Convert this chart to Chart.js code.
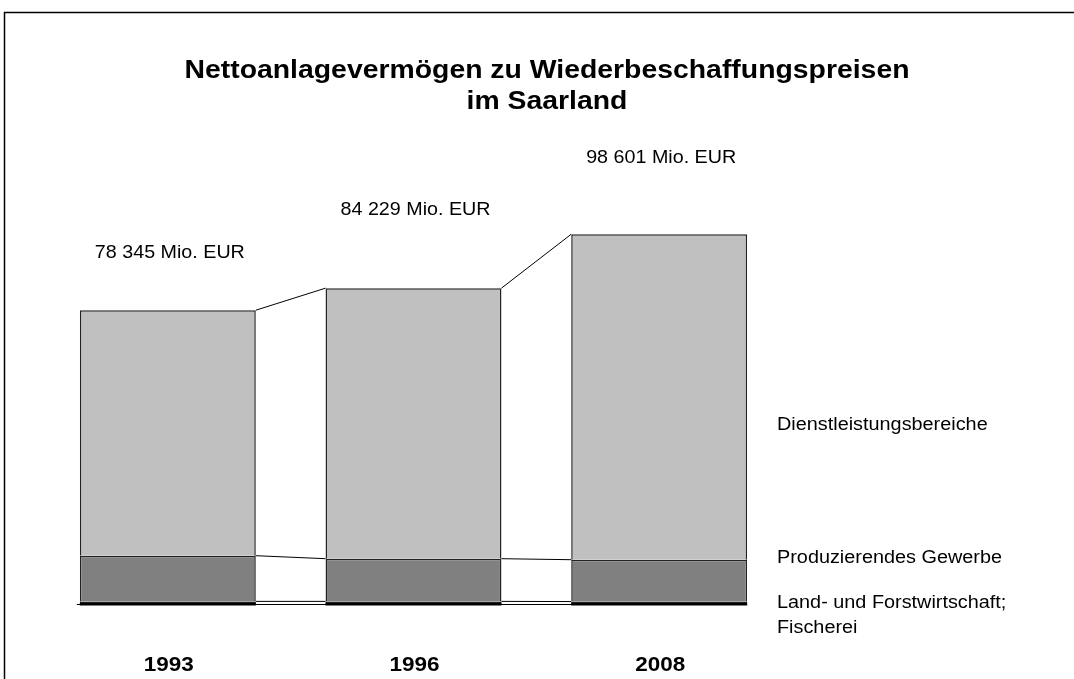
<!DOCTYPE html>
<html>
<head>
<meta charset="utf-8">
<script src="https://cdn.jsdelivr.net/npm/chart.js@4/dist/chart.umd.min.js"></script>
<style>
html,body{margin:0;padding:0;background:#fff;}
#wrap{width:1074px;height:679px;position:relative;}
</style>
</head>
<body>
<div id="wrap"><canvas id="c" width="1074" height="679"></canvas></div>
<script>
const categories = ['1993', '1996', '2008'];
const totalLabels = ['78 345 Mio. EUR', '84 229 Mio. EUR', '98 601 Mio. EUR'];
const landForst = [700, 700, 650];
const produzierend = [12180, 11380, 11160];
const dienstleistung = [65465, 72149, 86791];
const seriesNames = ['Land- und Forstwirtschaft;\nFischerei', 'Produzierendes Gewerbe', 'Dienstleistungsbereiche'];
const titleLines = ['Nettoanlagevermögen zu Wiederbeschaffungspreisen', 'im Saarland'];

const FONT = '"Liberation Sans", Arial, sans-serif';

function drawText(ctx, text, x, y, font, sx, align) {
  ctx.save();
  ctx.font = font;
  ctx.textAlign = align;
  ctx.translate(x, y);
  ctx.scale(sx, 1);
  ctx.fillText(text, 0, 0);
  ctx.restore();
}
function fitScale(ctx, text, font, target) {
  ctx.save();
  ctx.font = font;
  const w = ctx.measureText(text).width;
  ctx.restore();
  return target / w;
}

const customDraw = {
  id: 'customDraw',
  beforeDraw(chart) {
    const ctx = chart.ctx;
    ctx.save();
    ctx.fillStyle = '#fff';
    ctx.fillRect(0, 0, chart.width, chart.height);
    ctx.strokeStyle = '#000';
    ctx.lineWidth = 1.5;
    ctx.strokeRect(4.5, 12.5, 1200, 800);
    ctx.restore();
  },
  afterDatasetsDraw(chart) {
    const ctx = chart.ctx;
    const metas = [0, 1, 2].map(i => chart.getDatasetMeta(i));
    ctx.save();
    // series lines
    ctx.strokeStyle = '#000';
    ctx.lineWidth = 1;
    metas.forEach(meta => {
      for (let i = 0; i < meta.data.length - 1; i++) {
        const a = meta.data[i], b = meta.data[i + 1];
        ctx.beginPath();
        ctx.moveTo(a.x + a.width / 2, a.y);
        ctx.lineTo(b.x - b.width / 2, b.y);
        ctx.stroke();
      }
    });
    // baseline
    const first = metas[0].data[0], last = metas[0].data[metas[0].data.length - 1];
    const y0 = chart.scales.y.getPixelForValue(0);
    ctx.lineWidth = 1;
    ctx.beginPath();
    ctx.moveTo(first.x - first.width / 2 - 3, y0 + 0.5);
    ctx.lineTo(last.x + last.width / 2, y0 + 0.5);
    ctx.stroke();
    ctx.lineWidth = 3;
    metas[0].data.forEach(el => {
      ctx.beginPath();
      ctx.moveTo(el.x - el.width / 2, y0);
      ctx.lineTo(el.x + el.width / 2, y0);
      ctx.stroke();
    });

    ctx.fillStyle = '#000';
    ctx.textBaseline = 'alphabetic';
    // title
    const tFont = 'bold 25px ' + FONT;
    const tScale = fitScale(ctx, titleLines[0], tFont, 725);
    drawText(ctx, titleLines[0], 547, 78, tFont, tScale, 'center');
    drawText(ctx, titleLines[1], 547, 109, tFont, tScale, 'center');

    // total labels
    const offsets = [57, 78, 76];
    const lFont = '18.5px ' + FONT;
    const lScale = fitScale(ctx, totalLabels[0], lFont, 150);
    ctx.textBaseline = 'middle';
    metas[2].data.forEach((el, i) => {
      drawText(ctx, totalLabels[i], el.x + 2, el.y - offsets[i], lFont, lScale, 'center');
    });

    // category labels
    const cFont = 'bold 21px ' + FONT;
    const cScale = fitScale(ctx, categories[0], cFont, 50);
    metas[0].data.forEach((el, i) => {
      drawText(ctx, categories[i], el.x + 1, 665, cFont, cScale, 'center');
    });

    // series names at right
    const sFont = '17.5px ' + FONT;
    const sScale = fitScale(ctx, seriesNames[1], sFont, 225);
    drawText(ctx, seriesNames[2], 777, 425, sFont, sScale, 'left');
    drawText(ctx, seriesNames[1], 777, 558, sFont, sScale, 'left');
    const lf = seriesNames[0].split('\n');
    drawText(ctx, lf[0], 777, 603, sFont, sScale, 'left');
    drawText(ctx, lf[1], 777, 628, sFont, sScale, 'left');
    ctx.restore();
  }
};

new Chart(document.getElementById('c'), {
  type: 'bar',
  data: {
    labels: categories,
    datasets: [
      { label: seriesNames[0], data: landForst, backgroundColor: '#000000', borderColor: '#000', borderWidth: 1 },
      { label: seriesNames[1], data: produzierend, backgroundColor: '#808080', borderColor: '#222', borderWidth: 1.5 },
      { label: seriesNames[2], data: dienstleistung, backgroundColor: '#C0C0C0', borderColor: '#222', borderWidth: 1.5 }
    ]
  },
  options: {
    responsive: false,
    animation: false,
    events: [],
    layout: { padding: { left: 45, right: 292, top: 229, bottom: 75 } },
    plugins: { legend: { display: false }, title: { display: false }, tooltip: { enabled: false } },
    datasets: { bar: { categoryPercentage: 1, barPercentage: 0.716 } },
    scales: {
      x: { stacked: true, display: false },
      y: { stacked: true, display: false, min: 0, max: 100000 }
    }
  },
  plugins: [customDraw]
});
</script>
</body>
</html>
